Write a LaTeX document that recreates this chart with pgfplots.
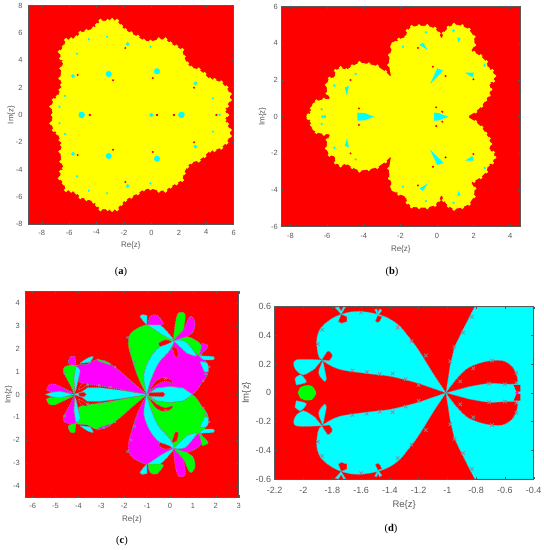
\documentclass[border=0pt]{standalone}
\usepackage{fontspec}
\setmainfont{Liberation Sans}
\newfontfamily\capfont{Liberation Serif}
\usepackage{pgfplots}
\usepackage{pgfplotstable}
\pgfplotsset{compat=1.18}

\definecolor{red}{RGB}{255,0,0}
\definecolor{green}{RGB}{0,255,0}
\definecolor{cyan}{RGB}{0,255,255}
\definecolor{magenta}{RGB}{255,0,255}
\definecolor{yellow}{RGB}{255,255,0}
\definecolor{axgray}{gray}{0.35}
\definecolor{edge}{RGB}{140,135,150}
\pgfplotsset{
  frac/.style={
    scale only axis, axis on top, enlargelimits=false,
    axis background/.style={fill=red},
    major tick length=2.5pt,
    tick style={color=axgray,line width=.4pt},
    axis line style={color=axgray,line width=.5pt},
    tick label style={font=\fontsize{7.5}{9}\selectfont,text=axgray,/pgf/number format/assume math mode=true},
    label style={font=\fontsize{8}{9}\selectfont,text=axgray},
    xlabel={Re\{z\}}, ylabel={Im\{z\}},
    scaled ticks=false,
  },
  bnd/.style={draw=edge,line width=.75pt,dash pattern=on 1pt off 1pt},
  soft/.style={smooth,tension=.55},
  disc/.style={only marks,mark=*,mark size=#1,mark options={draw=none}},
  beads/.style={only marks,mark=x,mark size=#1,edge,mark options={line width=.7pt}},
}
% fill a half region and its mirror image
\newcommand{\both}[2]{%
  \addplot[#1] table {#2} -- cycle;
  \addplot[#1] table[y expr=-\thisrow{y}] {#2} -- cycle;
}
% same for marks
\newcommand{\spots}[3]{%
  \addplot[#1] table {#3};
  \addplot[#1] table[y expr=-\thisrow{y}] {#3};
}
% panel c: the mirror image swaps magenta and green
\newcommand{\swap}[3]{%
  \addplot[fill=#1,bnd,soft] table {#3} -- cycle;
  \addplot[fill=#2,bnd,soft] table[y expr=-\thisrow{y}] {#3} -- cycle;
}

% ---- panel a
\pgfplotstableread{
x y
5.52 0
5.33 0.37
5.52 0.66
5.72 1.10
5.72 1.54
5.47 2.02
5.09 2.39
4.60 2.56
4.26 2.61
3.87 3.00
3.45 3.34
2.90 3.46
2.60 3.78
2.36 4.27
2.24 4.76
1.82 5.00
1.39 5.24
1.02 5.54
0.54 5.54
-0.07 5.37
-0.56 5.44
-1.00 5.73
-1.48 5.98
-1.90 6.22
-2.21 6.51
-2.51 6.90
-2.87 6.95
-3.19 6.88
-3.72 6.90
-3.97 6.59
-4.21 6.34
-4.74 6.15
-5.18 6.02
-5.47 5.68
-5.86 5.54
-6.23 5.49
-6.40 5.00
-6.69 4.63
-6.59 4.15
-6.40 3.90
-6.57 3.41
-6.64 2.68
-6.52 2.20
-6.64 1.83
-6.84 1.34
-7.13 1.10
-7.30 0.61
-7.18 0
-7.10 -0.05
5.40 -0.05
}\aOut
\pgfplotstableread{
x y
-3.11 3.00
0.41 3.20
-5.09 0.02
2.19 0.00
}\aBig
\pgfplotstableread{
x y
0 0
-1.73 5.20
-5.72 2.85
3.21 2.32
}\aMid
\pgfplotstableread{
x y
-3.24 5.73
-4.57 5.54
-5.43 4.49
4.48 1.22
4.96 0
-0.07 5.00
-6.3 1.4
-6.7 0.6
}\aSmall
\pgfplotstableread{
x y
-4.50 0
-2.80 2.54
0.10 2.70
0.41 0
1.65 0
-5.38 2.93
3.11 2.00
4.74 0
-1.9 4.9
}\aRed

% ---- panel b
\pgfplotstableread{
x y
1.66 0
2.11 0.27
2.44 0.58
2.66 0.91
2.84 1.18
2.93 1.49
2.84 1.82
3.08 1.95
3.15 2.22
3.02 2.51
2.79 2.64
2.70 3.00
2.39 3.31
2.02 3.51
1.84 3.55
2.06 3.91
2.02 4.36
1.75 4.76
1.38 4.95
0.93 5.04
0.62 4.87
0.35 4.55
0.26 4.22
0.11 4.55
-0.11 4.82
-0.53 4.96
-0.98 4.95
-1.38 4.91
-1.62 4.69
-1.68 4.36
-2.08 4.22
-2.35 3.91
-2.59 3.36
-2.62 2.82
-2.50 2.15
-2.81 2.45
-3.26 2.76
-3.72 2.87
-4.23 2.95
-4.63 2.76
-4.95 2.55
-5.26 2.67
-5.54 2.51
-5.54 2.15
-5.87 2.09
-6.03 1.73
-5.99 1.27
-5.81 0.96
-6.17 0.95
-6.58 0.85
-6.85 0.45
-6.85 0.27
-7.03 0.09
-7.03 0
-6.90 -0.05
1.50 -0.05
}\bOut
% round lobes on the rim of panel b, radius about 5.5 px
\pgfplotstableread{
x y
-0.58 4.50
0.93 4.59
1.53 4.54
2.71 2.22
2.34 2.85
-1.35 4.50
1.70 4.15
2.56 1.49
-2.24 3.82
-5.68 1.82
-4.23 2.56
-6.55 0.51
-5.26 2.32
-3.72 2.56
}\bLobes
\pgfplotstableread{
x y
-0.16 -0.02
-0.16 0.22
0.10 0.20
0.60 0
0.60 -0.02
}\bTa
\pgfplotstableread{
x y
-4.35 -0.02
-4.35 0.22
-3.95 0.20
-3.44 0
-3.44 -0.02
}\bTb
\pgfplotstableread{
x y
-0.38 1.78
0.02 2.64
0.33 2.51
}\bTc
\pgfplotstableread{
x y
1.53 2.40
2.02 2.40
1.93 2.15
}\bTd
\pgfplotstableread{
x y
-0.95 3.91
-0.77 4.04
-0.49 3.64
}\bTe
\pgfplotstableread{
x y
-5.03 1.60
-4.81 1.67
-4.92 1.18
}\bTf
\pgfplotstableread{
x y
1.11 4.33
1.29 4.27
1.17 4.05
}\bTg
\pgfplotstableread{
x y
2.30 1.55
2.51 1.49
2.39 1.33
}\bTh
\pgfplotstableread{
x y
-1.86 3.82
-4.44 2.33
-6.25 0.02
-6.12 0.02
-0.6 4.6
-5.6 1.7
-6.3 0.4
0.9 4.7
2.6 2.8
}\bSmall
\pgfplotstableread{
x y
-4.26 0.45
-0.04 0.51
0.47 2.22
-0.22 2.73
-1.04 3.75
-4.72 2.00
1.99 2.04
0.29 0.27
}\bRed

% ---- panel c, upper half
\pgfplotstableread{
x y
-1.02 0.01
-1.24 0.42
-1.46 0.93
-1.67 1.59
-1.82 2.17
-1.75 2.61
-1.53 2.83
-1.02 3.05
-0.58 2.83
0.15 2.36
-0.44 2.10
-0.87 1.59
-1.14 0.86
}\cGa
\pgfplotstableread{
x y
-1.02 0.01
-1.14 0.86
-0.87 1.59
-0.44 2.10
0.15 2.36
0 1.95
-0.51 1.37
-0.87 0.57
}\cCa
\pgfplotstableread{
x y
-1.02 0.01
-0.87 0.57
-0.51 1.37
0 1.95
0.15 2.36
0.73 2.10
1.38 1.73
1.67 1.01
1.38 0.50
0.98 0.01
0.58 0.28
0 0.35
-0.58 0.28
}\cMa
\pgfplotstableread{
x y
-0.98 0.10
-0.58 0.62
-0.22 0.74
0.07 0.62
0.10 0.50
-0.22 0.58
-0.58 0.42
}\cRa
\pgfplotstableread{
x y
-0.51 2.24
-0.22 2.39
0.07 2.32
-0.15 2.20
-0.44 2.10
}\cRb
\pgfplotstableread{
x y
0.07 2.10
0.29 2.03
0.36 1.66
0.22 1.66
}\cRc
\pgfplotstableread{
x y
0.15 2.36
0.66 2.32
1.16 1.70
0.73 1.81
}\cCb
\pgfplotstableread{
x y
0.15 2.36
0.73 2.54
1.31 2.24
1.41 1.95
1.27 1.69
0.66 2.32
}\cGb
\pgfplotstableread{
x y
0.15 2.36
0.58 2.83
0.87 3.41
1.09 3.19
1.02 2.76
0.73 2.54
}\cMb
\pgfplotstableread{
x y
0.15 2.39
0.22 3.05
0.36 3.56
0.66 3.51
0.58 2.83
}\cGc
\pgfplotstableread{
x y
-0.97 3.05
-0.44 3.05
0.15 2.39
-0.44 2.68
}\cCc
\pgfplotstableread{
x y
-0.97 3.05
-0.87 3.41
-0.58 3.48
-0.29 3.12
-0.44 3.05
}\cMc
\pgfplotstableread{
x y
-1.02 3.05
-1.31 3.41
-1.17 3.50
-1.00 3.45
}\cCd
\pgfplotstableread{
x y
1.27 1.69
1.89 1.66
1.89 1.52
1.46 1.52
}\cCe
\pgfplotstableread{
x y
1.27 1.69
1.67 2.10
1.41 2.24
}\cMd
\pgfplotstableread{
x y
1.31 1.44
1.63 1.37
1.67 1.01
1.49 1.01
}\cCf
\pgfplotstableread{
x y
-1.02 0.01
-1.60 0.50
-2.18 1.01
-2.69 1.37
-3.20 1.52
-3.61 1.33
-4.08 1.27
-3.96 0.86
-4.00 0.57
-3.61 0.45
-3.06 0.38
-2.04 0.20
}\cMe
\pgfplotstableread{
x y
-3.86 0.26
-4.00 0.20
-3.86 0.45
-3.61 0.50
-3.71 0.35
}\cRd
\pgfplotstableread{
x y
-4.15 0
-4.51 0.71
-4.66 1.00
-4.59 1.22
-4.11 1.27
-4.19 0.71
}\cGd
\pgfplotstableread{
x y
-4.11 1.22
-3.93 1.08
-4.00 0.71
-4.14 0.13
-4.19 0.71
}\cCg
\pgfplotstableread{
x y
-4.11 1.27
-4.44 1.37
-4.34 1.66
-4.15 1.66
}\cMf
\pgfplotstableread{
x y
-3.93 1.37
-3.61 1.59
-3.35 1.66
-3.49 1.41
}\cCh
\pgfplotstableread{
x y
-3.20 1.56
-2.69 1.41
-2.62 1.30
-3.10 1.45
}\cGe
\pgfplotstableread{
x y
-4.19 0.06
-4.66 0.28
-5.03 0.45
-5.29 0.42
-5.39 0.20
-5.22 0.13
}\cMg
% axis teardrops and red slivers, whole shapes
\pgfplotstableread{
x y
-1.02 0
-0.58 0.28
0 0.35
0.58 0.28
0.98 0
0.58 -0.28
0 -0.35
-0.58 -0.28
}\cAxR
\pgfplotstableread{
x y
-1.02 0
-2.04 0.17
-3.06 0.30
-3.60 0.30
-3.85 0.12
-4.20 0
-3.85 -0.12
-3.60 -0.30
-3.06 -0.30
-2.04 -0.17
}\cAxL
\pgfplotstableread{
x y
-4.20 0
-4.80 0.14
-5.20 0.09
-5.45 0
-5.20 -0.09
-4.80 -0.14
}\cAxF
\pgfplotstableread{
x y
-0.95 0
-0.90 0.08
-0.30 0.10
-0.22 0
-0.30 -0.10
-0.90 -0.08
}\cSlR
\pgfplotstableread{
x y
-4.00 0
-3.95 0.08
-3.75 0.10
-3.65 0
-3.75 -0.10
-3.95 -0.08
}\cSlL
\pgfplotstableread{
x y
-2.9 1.45
-2.4 1.2
-3.6 0.42
-3.1 0.4
-2.6 0.32
-1.7 2.0
-1.55 1.4
-1.85 2.5
1.55 0.9
1.7 1.2
1.45 0.6
-0.2 0.7
-4.6 0.95
}\cX

% ---- panel d
\pgfplotstableread{
x y
-0.81 0.6
-0.887 0.449
-0.95 0.321
-0.98 0.194
-1.01 0
-0.98 -0.194
-0.95 -0.321
-0.887 -0.449
-0.81 -0.6
-0.4 -0.6
-0.4 0.6
}\dRight
\pgfplotstableread{
x y
-1.01 0
-0.933 0.10
-0.852 0.175
-0.736 0.217
-0.62 0.224
-0.55 0.182
-0.516 0.112
-0.52 0.066
-0.597 0.062
-0.713 0.066
-0.852 0.043
}\dPetal
\pgfplotstableread{
x y
-0.54 0.055
-0.493 0.055
-0.493 0.008
-0.52 0.008
}\dTip
\pgfplotstableread{
x y
-1.01 0
-1.107 0.147
-1.2 0.298
-1.27 0.391
-1.339 0.472
-1.432 0.53
-1.548 0.561
-1.664 0.565
-1.78 0.53
-1.872 0.461
-1.907 0.38
-1.9 0.275
-1.872 0.229
-1.757 0.166
-1.571 0.136
-1.386 0.113
-1.2 0.066
}\dLobe
\pgfplotstableread{
x y
-2.039 0
-2.023 0.036
-1.988 0.052
-1.942 0.048
-1.912 0
-1.942 -0.048
-1.988 -0.052
-2.023 -0.036
}\dBlob
\pgfplotstableread{
x y
-1.872 0.229
-2.05 0.23
-2.06 0.17
-2.0 0.125
-1.92 0.17
}\dPa
\pgfplotstableread{
x y
-1.872 0.229
-1.83 0.29
-1.80 0.26
-1.82 0.225
}\dRa
\pgfplotstableread{
x y
-1.865 0.225
-1.895 0.14
-1.855 0.08
-1.84 0.10
}\dPb
\pgfplotstableread{
x y
-2.06 0.10
-2.02 0.125
-1.98 0.075
-2.05 0.055
}\dPc
\pgfplotstableread{
x y
-1.738 0.547
-1.78 0.595
-1.757 0.6
-1.738 0.57
-1.722 0.6
-1.706 0.6
}\dFa
\pgfplotstableread{
x y
-1.738 0.547
-1.757 0.496
-1.733 0.484
-1.722 0.49
-1.699 0.496
-1.699 0.53
}\dFb
\pgfplotstableread{
x y
-1.483 0.537
-1.505 0.58
-1.49 0.585
-1.483 0.56
-1.47 0.585
-1.455 0.575
}\dFc
\pgfplotstableread{
x y
-1.483 0.537
-1.50 0.50
-1.485 0.49
-1.47 0.50
-1.455 0.53
}\dFd
\pgfplotstableread{
x y
-1.87 0.44
-1.90 0.34
-1.345 0.455
-1.25 0.36
-1.15 0.26
-1.66 0.155
-1.56 0.145
-1.47 0.13
-1.38 0.135
-1.29 0.095
-0.83 0.53
-0.89 0.42
-0.95 0.32
-0.98 0.22
-0.52 0.07
-0.52 0.14
-0.69 0.225
-0.60 0.06
-0.71 0.065
-0.82 0.17
-0.91 0.08
-1.60 0.56
-1.2 0.055
}\dX

\begin{document}
\begin{tikzpicture}[x=1pt,y=1pt]
\path[use as bounding box] (0,0) rectangle (544,550);

% (a)
\begin{axis}[frac,at={(28pt,325.7pt)},anchor=south west,width=205.7pt,height=218.6pt,
  xmin=-9,xmax=6,ymin=-8,ymax=8,xtick={-8,-6,...,6},ytick={-8,-6,...,8},
  xticklabel shift=2pt,yticklabel shift=2pt,ylabel shift=-6pt]
\both{fill=yellow,draw=none}{\aOut}
\spots{disc=1.8pt,yellow}{}{\aOut}
\spots{disc=2.8pt,cyan}{}{\aBig}
\spots{disc=1.7pt,cyan}{}{\aMid}
\spots{disc=.9pt,cyan}{}{\aSmall}
\spots{disc=.8pt,red}{}{\aRed}
\end{axis}

% (b)
\begin{axis}[frac,at={(281.3pt,323.3pt)},anchor=south west,width=239pt,height=220pt,
  xmin=-8.5,xmax=4.55,ymin=-6,ymax=6,xtick={-8,-6,...,4},ytick={-6,-4,...,6},
  xticklabel shift=3pt,ylabel shift=-2pt]
\both{fill=yellow,draw=none}{\bOut}
\spots{disc=1.5pt,yellow}{}{\bOut}
\spots{disc=5.5pt,yellow}{}{\bLobes}
\both{fill=cyan,draw=none}{\bTa}
\both{fill=cyan,draw=none}{\bTb}
\both{fill=cyan,draw=none}{\bTc}
\both{fill=cyan,draw=none}{\bTd}
\both{fill=cyan,draw=none}{\bTe}
\both{fill=cyan,draw=none}{\bTf}
\both{fill=cyan,draw=none}{\bTg}
\both{fill=cyan,draw=none}{\bTh}
\spots{disc=1pt,cyan}{}{\bSmall}
\spots{disc=.8pt,red}{}{\bRed}
\end{axis}

% (c)
\begin{axis}[frac,at={(25.3pt,52.3pt)},anchor=south west,width=213.4pt,height=206.4pt,
  xmin=-6.32,xmax=3,ymin=-4.52,ymax=4.52,xtick={-6,-5,...,3},ytick={-4,-3,...,4},
  xticklabel shift=2pt,yticklabel shift=2pt,ylabel shift=-6pt]
\swap{green}{magenta}{\cGa}
\swap{magenta}{green}{\cMa}
\swap{cyan}{cyan}{\cCa}
\swap{red}{red}{\cRa}
\swap{red}{red}{\cRb}
\swap{red}{red}{\cRc}
\swap{green}{magenta}{\cGb}
\swap{cyan}{cyan}{\cCb}
\swap{magenta}{green}{\cMb}
\swap{green}{magenta}{\cGc}
\swap{cyan}{cyan}{\cCc}
\swap{magenta}{green}{\cMc}
\swap{cyan}{cyan}{\cCd}
\swap{cyan}{cyan}{\cCe}
\swap{magenta}{green}{\cMd}
\swap{cyan}{cyan}{\cCf}
\swap{magenta}{green}{\cMe}
\swap{red}{red}{\cRd}
\swap{green}{magenta}{\cGd}
\swap{cyan}{cyan}{\cCg}
\swap{magenta}{green}{\cMf}
\swap{cyan}{cyan}{\cCh}
\swap{green}{magenta}{\cGe}
\swap{magenta}{green}{\cMg}
\addplot[fill=cyan,bnd] table {\cAxR} -- cycle;
\addplot[fill=cyan,bnd] table {\cAxL} -- cycle;
\addplot[fill=cyan,bnd] table {\cAxF} -- cycle;
\addplot[fill=red,bnd] table {\cSlR} -- cycle;
\addplot[fill=red,bnd] table {\cSlL} -- cycle;
\spots{beads=1.6pt}{}{\cX}
\end{axis}

% (d)
\begin{axis}[frac,at={(274.7pt,71pt)},anchor=south west,width=259pt,height=172.3pt,
  xmin=-2.2,xmax=-0.4,ymin=-0.6,ymax=0.6,xtick={-2.2,-2,...,-0.3},ytick={-0.6,-0.4,...,0.61},
  tick label style={font=\fontsize{9}{10}\selectfont},label style={font=\fontsize{9.5}{11}\selectfont},
  xticklabel shift=5pt,ylabel shift=-2pt,
  xticklabels={-2.2,-2,-1.8,-1.6,-1.4,-1.2,-1,-0.8,-0.6,-0.4},
  yticklabels={-0.6,-0.4,-0.2,0,0.2,0.4,0.6}]
\addplot[fill=cyan,bnd] table {\dRight} -- cycle;
\both{fill=red,bnd,soft}{\dPetal}
\both{fill=cyan,bnd,soft}{\dLobe}
\both{fill=cyan,bnd,soft}{\dPa}
\both{fill=red,bnd,soft}{\dRa}
\both{fill=cyan,bnd,soft}{\dPb}
\both{fill=cyan,bnd,soft}{\dPc}
\both{fill=cyan,bnd}{\dFa}
\both{fill=red,bnd}{\dFb}
\both{fill=cyan,bnd}{\dFc}
\both{fill=red,bnd}{\dFd}
\both{fill=red,draw=none}{\dTip}
\addplot[fill=green,draw=none,smooth] table {\dBlob} -- cycle;
\addplot[disc=1.4pt,magenta] coordinates {(-0.516,0)};
\spots{beads=2.5pt}{}{\dX}
\end{axis}

\node[font=\capfont\fontsize{10.5}{12}\selectfont] at (121,278) {(\textbf{a})};
\node[font=\capfont\fontsize{10.5}{12}\selectfont] at (392,278) {(\textbf{b})};
\node[font=\capfont\fontsize{10.5}{12}\selectfont] at (122,9) {(\textbf{c})};
\node[font=\capfont\fontsize{10.5}{12}\selectfont] at (391,21) {(\textbf{d})};
\end{tikzpicture}
\end{document}
